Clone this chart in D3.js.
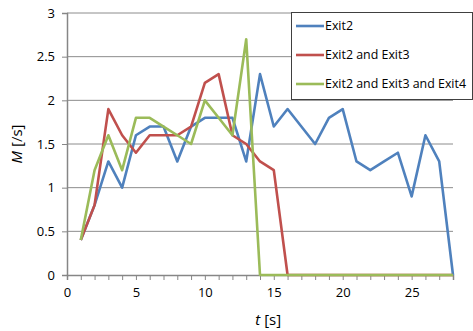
<!DOCTYPE html>
<html>
<head>
<meta charset="utf-8">
<script src="https://cdn.jsdelivr.net/npm/d3@7"></script>
<style>
  body { margin: 0; background: #fff; }
  text { font-family: "Open Sans", "Noto Sans", sans-serif; }
</style>
</head>
<body>
<svg id="chart"></svg>
<script>
var times = d3.range(1, 29);
var seriesNames = ["Exit2", "Exit2 and Exit3", "Exit2 and Exit3 and Exit4"];
var exit2 = [0.4, 0.8, 1.3, 1.0, 1.6, 1.7, 1.7, 1.3, 1.7, 1.8, 1.8, 1.8, 1.3, 2.3,
             1.7, 1.9, 1.7, 1.5, 1.8, 1.9, 1.3, 1.2, 1.3, 1.4, 0.9, 1.6, 1.3, 0];
var exit23 = [0.4, 0.8, 1.9, 1.6, 1.4, 1.6, 1.6, 1.6, 1.7, 2.2, 2.3, 1.6, 1.5, 1.3,
              1.2, 0, 0, 0, 0, 0, 0, 0, 0, 0, 0, 0, 0, 0];
var exit234 = [0.4, 1.2, 1.6, 1.2, 1.8, 1.8, 1.7, 1.6, 1.5, 2.0, 1.8, 1.6, 2.7, 0,
               0, 0, 0, 0, 0, 0, 0, 0, 0, 0, 0, 0, 0, 0];
var xTicks = [0, 5, 10, 15, 20, 25];
var yTicks = [0, 0.5, 1, 1.5, 2, 2.5, 3];
var colors = ["#4F81BD", "#C0504D", "#9BBB59"];

var margin = {top: 13, right: 20, bottom: 56, left: 67},
    width = 473 - margin.left - margin.right,
    height = 331 - margin.top - margin.bottom;

var svg = d3.select("#chart")
  .attr("width", 473)
  .attr("height", 331)
  .append("g")
  .attr("transform", "translate(" + margin.left + "," + margin.top + ")");

var x = d3.scaleLinear().domain([0, 28]).range([0, 386]);
var y = d3.scaleLinear().domain([0, 3]).range([height, 0]);

// gridlines
svg.append("g")
  .selectAll("line")
  .data(yTicks.slice(1))
  .enter()
  .append("line")
    .attr("x1", 0)
    .attr("x2", x(28))
    .attr("y1", function (d) { return y(d); })
    .attr("y2", function (d) { return y(d); })
    .style("stroke", "#8c8c8c")
    .style("stroke-width", 1);

// y axis
var yAxis = svg.append("g")
  .call(d3.axisLeft(y).tickValues(yTicks).tickSize(5).tickPadding(7)
        .tickFormat(function (d) { return d; }));
yAxis.select(".domain").attr("stroke", "#868686").attr("stroke-width", 1.5);
yAxis.selectAll(".tick line").attr("stroke", "#868686");
yAxis.selectAll("text").style("font-size", "13px").attr("fill", "#000");

// x axis: minor ticks each second, labels every 5
var xAxis = svg.append("g")
  .attr("transform", "translate(0," + height + ")")
  .call(d3.axisBottom(x).tickValues(d3.range(0, 29)).tickSize(5).tickPadding(8)
        .tickFormat(function (d) { return xTicks.indexOf(d) >= 0 ? d : ""; }));
xAxis.select(".domain").attr("stroke", "#868686").attr("stroke-width", 1.5);
xAxis.selectAll(".tick line").attr("stroke", "#868686");
xAxis.selectAll("text").style("font-size", "13px").attr("fill", "#000");

// lines
var allSeries = [exit2, exit23, exit234];
var line = d3.line()
  .x(function (d, i) { return x(times[i]); })
  .y(function (d) { return y(d); });

allSeries.forEach(function (s, k) {
  svg.append("path")
    .datum(s)
    .attr("fill", "none")
    .attr("stroke", colors[k])
    .attr("stroke-width", 2.6)
    .attr("stroke-linejoin", "round")
    .attr("d", line);
});

// axis titles
svg.append("text")
  .attr("transform", "translate(" + (x(14.6)) + "," + (height + 50) + ")")
  .style("text-anchor", "middle")
  .style("font-size", "15px")
  .html('<tspan font-style="italic">t</tspan> [s]');

svg.append("text")
  .attr("transform", "translate(-45," + y(1.5) + ") rotate(-90)")
  .style("text-anchor", "middle")
  .style("font-size", "15px")
  .html('<tspan font-style="italic">M</tspan> [/s]');

// legend
var legend = d3.select("#chart").append("g")
  .attr("transform", "translate(291,12)");
legend.append("rect")
  .attr("x", 0.5).attr("y", 0.5)
  .attr("width", 181).attr("height", 87)
  .attr("fill", "#fff")
  .attr("stroke", "#404040");
seriesNames.forEach(function (name, k) {
  var ly = 14 + k * 29;
  legend.append("line")
    .attr("x1", 5).attr("x2", 33)
    .attr("y1", ly).attr("y2", ly)
    .attr("stroke", colors[k])
    .attr("stroke-width", 2.6);
  legend.append("text")
    .attr("x", 34).attr("y", ly + 4)
    .style("font-size", "12.4px")
    .text(name);
});
</script>
</body>
</html>
